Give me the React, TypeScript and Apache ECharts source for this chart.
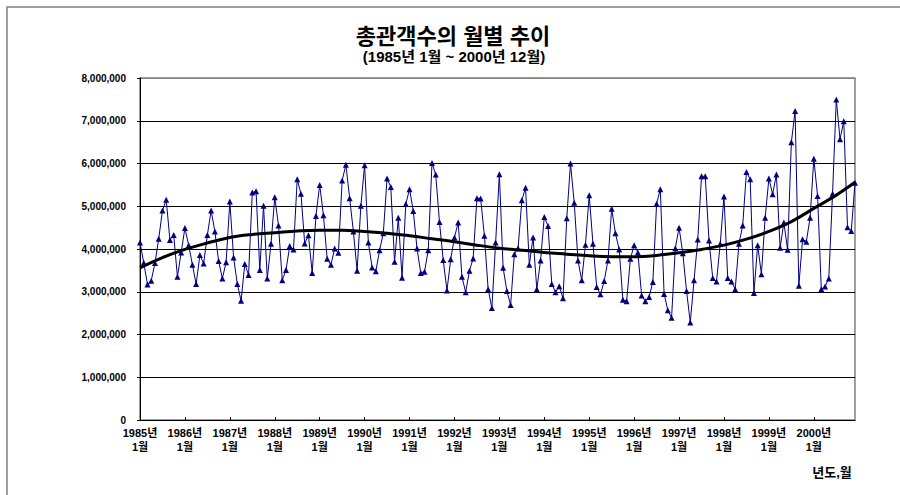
import React, { useEffect, useRef } from "react";
import * as echarts from "echarts";

const TITLE = "총관객수의 월별 추이";
const SUBTITLE = "(1985년 1월 ~ 2000년 12월)";
const X_NAME = "년도,월";

const YEARS = [1985, 1986, 1987, 1988, 1989, 1990, 1991, 1992, 1993, 1994, 1995, 1996, 1997, 1998, 1999, 2000];

// Monthly totals (audience)
const v1985 = [4150000, 3680000, 3170000, 3260000, 3670000, 4240000, 4900000, 5150000, 4210000, 4330000, 3350000, 3920000];
const v1986 = [4490000, 4090000, 3630000, 3180000, 3860000, 3660000, 4330000, 4900000, 4410000, 3720000, 3310000, 3690000];
const v1987 = [5110000, 3800000, 3180000, 2790000, 3650000, 3390000, 5320000, 5350000, 3510000, 5010000, 3310000, 4120000];
const v1988 = [5210000, 4550000, 3270000, 3510000, 4070000, 3990000, 5630000, 5290000, 4130000, 4320000, 3440000, 4770000];
const v1989 = [5500000, 4790000, 3770000, 3630000, 4010000, 3910000, 5600000, 5970000, 5190000, 4410000, 3490000, 5010000];
const v1990 = [5960000, 4150000, 3570000, 3480000, 3970000, 4370000, 5650000, 5450000, 3700000, 4730000, 3330000, 5050000];
const v1991 = [5400000, 4890000, 4010000, 3440000, 3470000, 3970000, 6010000, 5740000, 4630000, 3740000, 3030000, 3760000];
const v1992 = [4270000, 4620000, 3350000, 2990000, 3490000, 3780000, 5190000, 5180000, 4310000, 3060000, 2620000, 4150000];
const v1993 = [5750000, 3560000, 3020000, 2690000, 3880000, 4020000, 5140000, 5430000, 3630000, 4270000, 3060000, 3730000];
const v1994 = [4750000, 4540000, 3180000, 2990000, 3130000, 2850000, 4720000, 6000000, 5080000, 3730000, 3270000, 4100000];
const v1995 = [5260000, 4120000, 3110000, 2940000, 3250000, 3730000, 4940000, 4370000, 3990000, 2810000, 2780000, 3770000];
const v1996 = [4090000, 3920000, 2910000, 2780000, 2880000, 3230000, 5060000, 5400000, 2950000, 2570000, 2390000, 4020000];
const v1997 = [4500000, 3900000, 3020000, 2280000, 3270000, 4220000, 5700000, 5700000, 4200000, 3320000, 3240000, 4120000];
const v1998 = [5230000, 3320000, 3240000, 3060000, 4120000, 4550000, 5800000, 5630000, 2970000, 4090000, 3410000, 4730000];
const v1999 = [5650000, 5280000, 5740000, 4030000, 4620000, 3980000, 6500000, 7230000, 3140000, 4230000, 4170000, 4730000];
const v2000 = [6110000, 5240000, 3060000, 3120000, 3310000, 5290000, 7500000, 6570000, 6990000, 4510000, 4420000, 5550000];

const MONTHLY = [v1985, v1986, v1987, v1988, v1989, v1990, v1991, v1992, v1993, v1994, v1995, v1996, v1997, v1998, v1999, v2000];

// Trend line: month index and value
const trendIdx = [0, 6, 12, 18, 24, 30, 36, 42, 48, 54, 60, 66, 72, 78, 84, 90, 96, 102, 108, 114, 120, 126, 132, 138, 144, 150, 156, 162, 168, 174, 180, 186, 191];
const trendVal = [3560000, 3800000, 3990000, 4140000, 4270000, 4340000, 4380000, 4420000, 4440000, 4440000, 4410000, 4370000, 4310000, 4240000, 4170000, 4090000, 4020000, 3970000, 3920000, 3880000, 3840000, 3820000, 3820000, 3850000, 3910000, 3990000, 4090000, 4230000, 4410000, 4640000, 4950000, 5260000, 5560000];

const Y_TICKS = [0, 1000000, 2000000, 3000000, 4000000, 5000000, 6000000, 7000000, 8000000];

const FONT = "'Liberation Sans', 'Noto Sans CJK KR', sans-serif";

export default function App() {
  const ref = useRef<HTMLDivElement>(null);

  useEffect(() => {
    if (!ref.current) return;
    const chart = echarts.init(ref.current, undefined, { renderer: "svg" });

    const categories: string[] = [];
    const values: number[] = [];
    YEARS.forEach((y, yi) => {
      MONTHLY[yi].forEach((v, mi) => {
        categories.push(`${y}년\n${mi + 1}월`);
        values.push(v);
      });
    });
    const trend = trendIdx.map((i, k) => [i, trendVal[k]]);

    const gridColors = Y_TICKS.map((_, i) => (i === Y_TICKS.length - 1 ? "#808080" : "#000000"));

    chart.setOption({
      animation: false,
      backgroundColor: "#ffffff",
      graphic: [
        {
          type: "rect",
          shape: { x: 7, y: 7, width: 910, height: 510 },
          style: { fill: "none", stroke: "#808080", lineWidth: 1.5 },
          silent: true,
        },
        {
          type: "text",
          x: 453,
          y: 36,
          style: {
            text: TITLE,
            font: `bold 22px ${FONT}`,
            fill: "#000",
            textAlign: "center",
            textVerticalAlign: "middle",
          },
        },
        {
          type: "text",
          x: 454,
          y: 56,
          style: {
            text: SUBTITLE,
            font: `bold 15px ${FONT}`,
            fill: "#000",
            textAlign: "center",
            textVerticalAlign: "middle",
          },
        },
        {
          type: "text",
          x: 832,
          y: 472,
          style: {
            text: X_NAME,
            font: `bold 13px ${FONT}`,
            fill: "#000",
            textAlign: "center",
            textVerticalAlign: "middle",
          },
        },
      ],
      grid: {
        left: 140,
        right: 45,
        top: 78,
        bottom: 75,
        show: true,
        borderColor: "#808080",
        borderWidth: 1.5,
        containLabel: false,
      },
      xAxis: {
        type: "category",
        data: categories,
        boundaryGap: false,
        axisLine: { show: true, lineStyle: { color: "#000", width: 1 } },
        axisTick: { show: true, inside: true, length: 3, interval: 11, lineStyle: { color: "#000" } },
        axisLabel: {
          interval: 11,
          color: "#000",
          fontFamily: FONT,
          fontWeight: "bold",
          fontSize: 11,
          lineHeight: 14,
          margin: 6,
        },
        splitLine: { show: false },
      },
      yAxis: {
        type: "value",
        min: 0,
        max: 8000000,
        interval: 1000000,
        axisLine: { show: true, lineStyle: { color: "#000", width: 1 } },
        axisTick: { show: true, length: 3, lineStyle: { color: "#000" } },
        axisLabel: {
          color: "#000",
          fontFamily: FONT,
          fontWeight: "bold",
          fontSize: 10,
          margin: 14,
          formatter: (v: number) => v.toLocaleString("en-US"),
        },
        splitLine: { show: true, lineStyle: { color: gridColors, width: 1 } },
      },
      series: [
        {
          type: "line",
          data: values,
          symbol: "triangle",
          symbolSize: 6,
          showAllSymbol: true,
          lineStyle: { color: "#000080", width: 1 },
          itemStyle: { color: "#000080" },
          z: 3,
        },
        {
          type: "line",
          data: trend,
          smooth: 0.4,
          symbol: "none",
          lineStyle: { color: "#000", width: 3 },
          z: 4,
        },
      ],
    });

    return () => chart.dispose();
  }, []);

  return (
    <div
      ref={ref}
      style={{ position: "fixed", left: 0, top: 0, width: 900, height: 495 }}
    />
  );
}
